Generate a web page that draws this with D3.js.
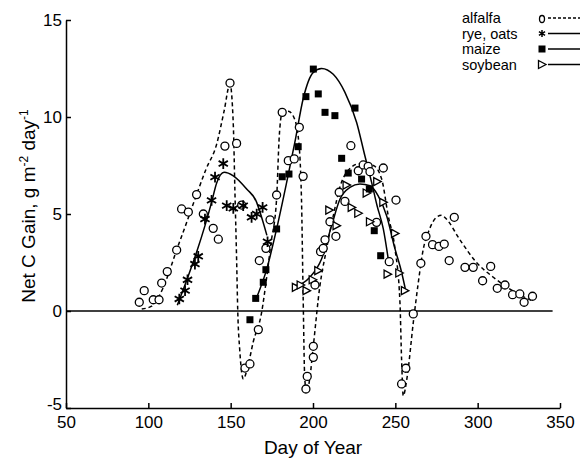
<!DOCTYPE html>
<html>
<head>
<meta charset="utf-8">
<title>Net C Gain</title>
<script src="https://cdn.jsdelivr.net/npm/d3@7"></script>
<style>
  body { margin: 0; background: #fff; }
  text { font-family: "Liberation Sans", Arial, sans-serif; fill: #000; }
</style>
</head>
<body>
<svg id="chart" width="580" height="459"></svg>
<script>
// measured points [day, net C gain]
var alfalfaPts = [[94.5,0.45],[97.5,1.05],[103,0.58],[106.5,0.58],[108.1,1.44],[111.5,2.03],[117.2,3.14],
  [120.2,5.26],[124.3,5.1],[129.3,6.0],[133.4,5.0],[139.4,4.26],[142.5,3.7],[146.5,8.5],[149.6,11.75],
  [153.6,8.64],[156.7,5.46],[158.7,-2.94],[161.7,-2.73],[166.8,-0.96],[167.4,2.6],[171.4,3.23],[173.9,4.7],
  [177.9,5.98],[181.3,10.24],[185,7.75],[188.6,7.84],[191.7,9.47],[194,6.94],[195.7,-4.02],[196.5,-3.37],
  [200.2,-1.82],[200.2,-2.39],[201.2,1.34],[204.6,3.06],[206.2,3.23],[207.3,3.67],[213.9,3.85],[210.3,4.6],
  [215.9,6.12],[219.4,5.65],[223,8.52],[227.5,7.23],[230.5,7.53],[233.5,7.46],[234.6,7.18],[242.7,7.37],
  [238.6,4.57],[250.4,5.72],[246.3,2.54],[253.8,-3.76],[256.4,-2.95],[260.9,-0.15],[265.5,2.46],[268.6,3.85],
  [272.6,3.42],[276.5,3.33],[279.7,3.45],[282.7,2.6],[285.8,4.83],[292.3,2.25],[297.3,2.25],[303,1.56],
  [307.9,2.3],[311.9,1.17],[316.6,1.34],[321.2,0.84],[325.6,0.88],[328.2,0.45],[333.3,0.76]];
var ryePts = [[118.8,0.62],[122.3,1.05],[123.8,1.61],[128.3,2.42],[130.3,2.82],[134.4,4.74],[138.4,5.7],
  [140.5,6.9],[145.5,7.6],[147.6,5.43],[151.6,5.29],[157.6,5.43],[162.7,4.83],[165.8,5.0],[169.4,5.34],[172.4,3.57]];
var maizePts = [[161.7,-0.45],[165.2,0.65],[169.8,1.48],[171.4,2.13],[177.9,4.23],[181.3,6.92],[185.4,7.06],
  [191,8.47],[195.7,11.05],[200.2,12.47],[203.2,11.19],[207.3,10.24],[213.3,10.07],[217.4,7.87],[221.4,7.11],
  [225.5,10.46],[229.5,6.8],[234.2,6.29],[237.2,4.14],[241.1,2.85]];
var soyPts = [[189.6,1.22],[192.5,1.34],[196.1,1.05],[199.8,1.61],[203.2,2.08],[209.9,5.2],[214.3,4.4],
  [220.4,6.49],[223.5,5.34],[227.5,5.04],[232.6,6.08],[234.6,4.6],[239,6.67],[242.7,5.6],[245.3,1.9],
  [249.8,4.0],[252.4,1.96],[255.8,1.05]];

// fitted curves
var alfalfaFit = [[96,0.1],[102,0.25],[106,0.7],[109,1.2],[113,2.1],[117,3.1],[123,4.5],[129.3,6.0],[135,7.3],
  [141.5,8.6],[146,10.3],[149.6,11.7],[151.6,9.6],[152.6,6.1],[153.6,2.7],[154.3,0],[155.5,-2],[157.7,-3.5],
  [160,-3.0],[163.7,-1.6],[168.8,-0.07],[171.5,1.5],[174.5,3.5],[177.9,5.8],[179.5,9.0],[181.3,10.2],[185,10.3],
  [188,10.05],[191,9.0],[193,5.8],[194,0.8],[195,-3.5],[196.2,-4.2],[198,-3.5],[200.2,-1.8],[204.2,1.3],
  [208,3.1],[212.3,4.9],[216.4,6.4],[220.4,7.15],[228.5,7.6],[236.6,7.5],[241.7,6.8],[245.7,4.9],[249.8,3.2],
  [252.8,0.45],[253.8,-2.5],[254.8,-4.37],[257,-3.5],[260.9,-0.6],[264,1.5],[267,3.2],[270,4.05],[275,4.83],
  [278,4.93],[281,4.74],[289,3.7],[299.3,2.5],[309.5,1.74],[319.6,1.13],[333.7,0.5]];
var ryeFit = [[117.6,0.3],[124.3,1.82],[129.3,3.03],[134.4,4.4],[138.4,5.6],[141.5,6.6],[146,7.15],[151.6,6.97],
  [159.7,6.29],[165.8,5.6],[167.8,5.1],[172,3.9]];
var maizeFit = [[165.8,0.7],[171.9,2.16],[177.9,4.23],[184,6.63],[189,8.7],[194,10.93],[200.2,12.3],[205.2,12.5],
  [212.3,12.2],[219.4,11.27],[226.5,9.72],[231.5,8.0],[235.6,6.63],[239,5.4],[242.7,4.23],[245.7,2.68]];
var soyFit = [[189,1.3],[194,1.45],[198.1,1.74],[205.2,2.68],[211.3,4.4],[216.4,5.77],[222.4,6.37],[228.5,6.55],
  [234.6,6.46],[239.6,5.94],[244.7,4.91],[249.8,3.2],[253.8,2.0],[256.3,1.05]];

var xTicks = [50, 100, 150, 200, 250, 300, 350];
var yTicks = [-5, 0, 5, 10, 15];
var legendNames = ["alfalfa", "rye, oats", "maize", "soybean"];

var svg = d3.select("#chart");
svg.append("rect").attr("width", 580).attr("height", 459).attr("fill", "#fff");

var x = d3.scaleLinear().domain([50, 350]).range([66, 560]);
var y = d3.scaleLinear().domain([-5, 15]).range([408, 20]);

var xAxis = svg.append("g").attr("transform", "translate(0,408)")
  .call(d3.axisBottom(x).tickValues(xTicks).tickSize(-5).tickSizeOuter(0).tickPadding(8).tickFormat(d => String(d)));
var yAxis = svg.append("g").attr("transform", "translate(66,0)")
  .call(d3.axisLeft(y).tickValues(yTicks).tickSize(-5).tickSizeOuter(0).tickPadding(4).tickFormat(d => String(d)));
[xAxis, yAxis].forEach(function(a) {
  a.selectAll("path, line").attr("stroke", "#000").attr("stroke-width", 1.5);
  a.selectAll("text").style("font-size", "17px").attr("fill", "#000");
});
// lowest y label sits just above the "50"
yAxis.selectAll(".tick text").filter(d => d === -5).attr("dy", "0.1em");

// zero line
svg.append("line")
  .attr("x1", x(50)).attr("x2", x(345.5))
  .attr("y1", y(0)).attr("y2", y(0))
  .attr("stroke", "#000").attr("stroke-width", 1.5);

var line = d3.line().x(d => x(d[0])).y(d => y(d[1])).curve(d3.curveMonotoneX);

svg.append("path").attr("d", line(alfalfaFit)).attr("fill", "none")
  .attr("stroke", "#000").attr("stroke-width", 1.5).attr("stroke-dasharray", "4,3");
[ryeFit, maizeFit, soyFit].forEach(function(f) {
  svg.append("path").attr("d", line(f)).attr("fill", "none")
    .attr("stroke", "#000").attr("stroke-width", 1.5);
});

// marker shapes
var starSym = d3.symbol().type(d3.symbolAsterisk).size(80);
var triPath = "M-3.5,-4L4,0L-3.5,4Z";

function drawCircles(g, pts, r) {
  g.selectAll(null).data(pts).enter().append("circle")
    .attr("cx", d => x(d[0])).attr("cy", d => y(d[1])).attr("r", r)
    .attr("fill", "#fff").attr("stroke", "#000").attr("stroke-width", 1.3);
}
var gm = svg.append("g");
drawCircles(gm, alfalfaPts, 4);
gm.selectAll(null).data(soyPts).enter().append("path")
  .attr("d", triPath).attr("transform", d => "translate(" + x(d[0]) + "," + y(d[1]) + ")")
  .attr("fill", "#fff").attr("stroke", "#000").attr("stroke-width", 1.3);
gm.selectAll(null).data(maizePts).enter().append("rect")
  .attr("x", d => x(d[0]) - 3.5).attr("y", d => y(d[1]) - 3.5)
  .attr("width", 7).attr("height", 7).attr("fill", "#000");
gm.selectAll(null).data(ryePts).enter().append("path")
  .attr("d", starSym).attr("transform", d => "translate(" + x(d[0]) + "," + y(d[1]) + ")")
  .attr("fill", "none").attr("stroke", "#000").attr("stroke-width", 1.8);

// axis titles
svg.append("text").attr("x", 313).attr("y", 454).attr("text-anchor", "middle")
  .style("font-size", "19px").text("Day of Year");
var yl = svg.append("text").attr("transform", "translate(35,206) rotate(-90)")
  .attr("text-anchor", "middle").style("font-size", "19px");
yl.append("tspan").text("Net C Gain, g m");
yl.append("tspan").attr("dy", -7).style("font-size", "12px").text("-2");
yl.append("tspan").attr("dy", 7).text(" day");
yl.append("tspan").attr("dy", -7).style("font-size", "12px").text("-1");

// legend
var lg = svg.append("g");
legendNames.forEach(function(name, i) {
  var cy = 18 + i * 15.5;
  lg.append("text").attr("x", 462).attr("y", cy + 5).style("font-size", "14.5px").text(name);
  var l = lg.append("line").attr("x1", 548).attr("x2", 582).attr("y1", cy).attr("y2", cy)
    .attr("stroke", "#000").attr("stroke-width", 1.3);
  if (i === 0) {
    l.attr("stroke-dasharray", "3,2");
    lg.append("ellipse").attr("cx", 542).attr("cy", cy + 1).attr("rx", 2.5).attr("ry", 3.5)
      .attr("fill", "#fff").attr("stroke", "#000").attr("stroke-width", 1.3);
  } else if (i === 1) {
    lg.append("path").attr("d", d3.symbol().type(d3.symbolAsterisk).size(35)())
      .attr("transform", "translate(542," + cy + ")").attr("fill", "none").attr("stroke", "#000").attr("stroke-width", 1.5);
  } else if (i === 2) {
    lg.append("rect").attr("x", 538.5).attr("y", cy - 3.5).attr("width", 7).attr("height", 7).attr("fill", "#000");
  } else {
    lg.append("path").attr("d", triPath).attr("transform", "translate(542," + cy + ")")
      .attr("fill", "#fff").attr("stroke", "#000").attr("stroke-width", 1.3);
  }
});
</script>
</body>
</html>
